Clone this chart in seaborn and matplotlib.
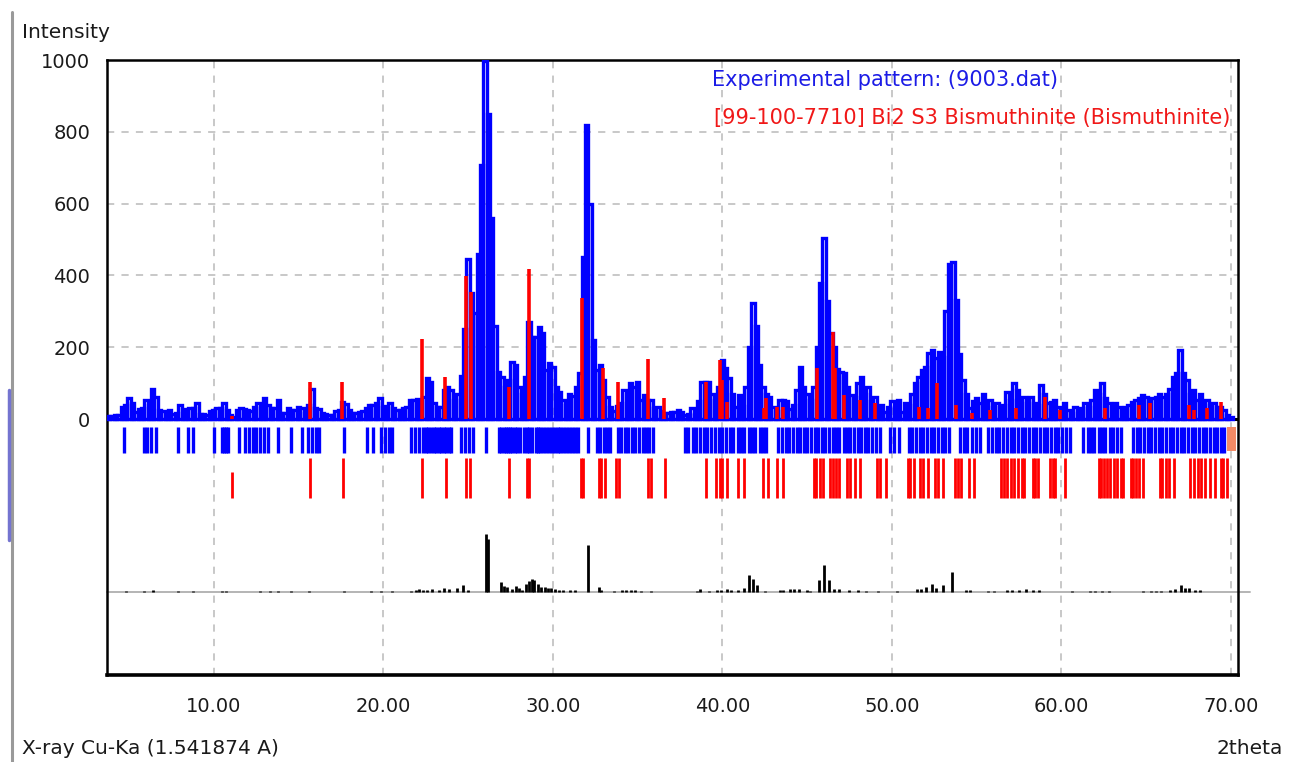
import numpy as np
import pandas as pd
import seaborn as sns
import matplotlib.pyplot as plt
from matplotlib.lines import Line2D
from matplotlib.patches import Rectangle

# ---------------------------------------------------------------- data
# Measured XRD pattern, 2theta from 3.8 deg in 0.2 deg steps
TWO_THETA_START = 3.8
TWO_THETA_STEP = 0.2
exp_intensity = [
    8, 8, 10, 12, 34, 40, 58, 46, 20, 28,
    30, 53, 39, 83, 62, 25, 22, 20, 25, 14,
    18, 39, 27, 24, 32, 30, 45, 14, 14, 12,
    23, 25, 32, 30, 44, 25, 12, 5, 25, 30,
    28, 24, 22, 34, 45, 30, 58, 39, 32, 30,
    53, 16, 18, 30, 26, 24, 34, 30, 16, 40,
    83, 30, 28, 16, 15, 11, 11, 22, 25, 48,
    42, 25, 16, 16, 20, 22, 30, 39, 39, 45,
    58, 34, 36, 44, 30, 25, 25, 30, 34, 53,
    53, 55, 50, 60, 113, 104, 44, 34, 34, 81,
    90, 81, 53, 70, 120, 250, 447, 350, 294, 461,
    707, 998, 850, 560, 260, 130, 118, 90, 110, 160,
    150, 90, 71, 118, 271, 229, 229, 257, 240, 136,
    157, 145, 90, 76, 53, 40, 71, 65, 90, 127,
    450, 819, 600, 220, 137, 150, 109, 62, 34, 22,
    35, 44, 81, 71, 99, 90, 104, 53, 67, 53,
    53, 30, 34, 22, 18, 16, 20, 20, 25, 20,
    12, 15, 30, 12, 50, 104, 104, 104, 71, 53,
    90, 164, 141, 113, 71, 34, 67, 35, 90, 200,
    322, 260, 150, 90, 71, 60, 34, 22, 53, 53,
    50, 28, 40, 81, 146, 90, 71, 53, 90, 200,
    380, 503, 330, 239, 201, 140, 130, 127, 90, 67,
    60, 100, 118, 70, 90, 50, 60, 30, 40, 20,
    34, 50, 30, 53, 20, 44, 40, 71, 99, 118,
    137, 146, 183, 192, 170, 188, 174, 300, 433, 438,
    331, 180, 110, 70, 30, 50, 58, 44, 71, 44,
    53, 34, 44, 34, 40, 76, 53, 99, 81, 44,
    62, 53, 62, 44, 40, 95, 71, 44, 48, 53,
    34, 25, 44, 25, 16, 34, 25, 30, 44, 34,
    53, 81, 71, 99, 58, 44, 34, 44, 34, 25,
    34, 39, 48, 53, 58, 67, 62, 53, 58, 62,
    71, 62, 71, 85, 118, 127, 192, 127, 109, 71,
    81, 53, 71, 44, 53, 39, 44, 34, 34, 25,
    11, 6,
]

# Reference card 99-100-7710 (Bi2S3): line positions and intensities
ref_pos = [11.1, 15.65, 17.55, 22.3, 23.65, 24.9, 25.2, 27.4, 28.6, 31.75,
           32.95, 33.85, 35.6, 36.55, 39.05, 39.85, 40.0, 40.28, 42.45, 42.6,
           43.2, 43.55, 45.58, 46.5, 46.65, 47.2, 48.15, 49.0, 51.6, 52.15,
           52.68, 53.8, 54.7, 55.8, 57.3, 59.05, 59.9, 62.6, 64.6, 65.2,
           67.5, 67.8, 68.6, 69.4]
ref_int = [8, 104, 104, 222, 116, 397, 355, 90, 418, 337,
           142, 104, 167, 59, 104, 164, 108, 48, 30, 58,
           34, 34, 141, 243, 141, 67, 53, 45, 34, 30,
           99, 39, 17, 25, 30, 62, 25, 30, 40, 45,
           39, 25, 30, 48]

# Peak positions found in the measured pattern
exp_peak_pos = [
    4.73, 5.86, 6.08, 6.31, 6.6, 7.89, 8.5, 8.79, 10.03, 10.48, 10.6, 10.71, 10.82,
    11.5, 11.84, 12.06, 12.29, 12.51, 12.74, 12.97, 13.19, 13.76, 14.55, 15.23,
    15.57, 15.79, 16.02, 16.18, 17.71, 19.06, 19.4, 19.86, 20.08, 20.31, 20.53,
    21.66, 21.89, 22.12, 22.34, 22.5, 22.66, 22.82, 22.98, 23.1, 23.26, 23.42,
    23.58, 23.7, 23.86, 24.0, 24.6, 24.82, 25.05, 25.27, 26.06, 26.85, 26.97,
    27.1, 27.22, 27.35, 27.5, 27.62, 27.75, 27.9, 28.05, 28.3, 28.45, 28.62, 28.8,
    28.98, 29.1, 29.25, 29.42, 29.6, 29.78, 29.95, 30.1, 30.28, 30.45, 30.6,
    30.78, 30.95, 31.12, 31.3, 31.48, 32.05, 32.6, 32.8, 33.0, 33.2, 33.4, 33.85,
    34.05, 34.25, 34.45, 34.65, 34.87, 35.1, 35.3, 35.5, 35.7, 35.9,
    37.8, 38.0, 38.25, 38.45, 38.7, 38.9, 39.1, 39.35, 39.55, 39.8, 40.0, 40.2,
    40.45, 40.65, 40.9, 41.1, 41.3, 41.55, 41.75, 41.95, 42.2, 42.4, 42.6,
    43.3, 43.5, 43.75, 43.95, 44.15, 44.4, 44.6, 44.8, 45.0, 45.25, 45.45, 45.65,
    45.85, 46.05, 46.3, 46.5, 46.7, 46.9, 47.15, 47.35, 47.55, 47.75, 48.0, 48.2,
    48.4, 48.6, 48.85, 49.05, 49.3, 49.9, 50.15, 50.4,
    51.0, 51.2, 51.45, 51.65, 51.85, 52.1, 52.3, 52.5, 52.7, 52.95, 53.15, 53.4,
    54.0, 54.25, 54.45, 54.7, 54.95, 55.2,
    55.7, 55.9, 56.15, 56.35, 56.55, 56.8, 57.0, 57.2, 57.45, 57.65, 57.85, 58.1,
    58.3, 58.5, 58.75, 58.95, 59.15, 59.4, 59.6, 59.8, 60.05, 60.25, 60.5,
    61.3, 61.55, 61.75, 61.95, 62.2, 62.4, 62.6, 62.85, 63.05, 63.3, 63.5,
    64.2, 64.45, 64.65, 64.85, 65.1, 65.3, 65.5, 65.75, 65.95, 66.15, 66.4, 66.6,
    66.8, 67.05, 67.25, 67.45, 67.7, 67.9, 68.1, 68.35, 68.55, 68.75, 69.0, 69.2,
    69.4, 69.6,
]

# Reflection markers of the Bi2S3 card (strong / weak)
ref_tick_pos = [
    15.7, 17.6, 22.3, 23.7, 24.9, 25.1, 27.4, 28.5, 28.6, 31.65, 31.8, 32.7,
    32.85, 33.05, 33.75, 33.9, 35.6, 35.8, 36.6,
    39.05, 39.65, 39.85, 40.0, 40.25, 40.9, 41.25, 42.4, 42.7, 43.25, 43.55,
    45.4, 45.55, 45.75, 45.95, 46.35, 46.5, 46.7, 46.9, 47.35, 47.55, 47.8,
    48.1, 49.1, 49.3, 49.65, 50.95, 51.1, 51.3, 51.65, 51.85, 52.15, 52.55,
    52.7, 53.0, 53.75, 53.9, 54.1, 54.55, 54.85, 56.45, 56.6, 56.8, 57.0,
    57.2, 57.45, 57.65, 57.8, 58.3, 58.45, 58.65, 59.3, 59.5, 59.65, 60.2,
    62.2, 62.35, 62.5, 62.7, 62.85, 63.1, 63.3, 63.5, 63.65, 64.1, 64.25, 64.4,
    64.6, 64.8, 65.8, 65.95, 66.15, 66.35, 66.65, 67.6, 67.8, 68.05, 68.25,
    68.5, 68.75, 69.05, 69.4, 69.55, 69.75,
]
ref_tick_weak = [11.1]

# Difference between measured and calculated profile
diff_pos = [
    4.84, 5.9, 6.42, 7.89, 8.79, 10.5, 10.7, 12.74, 13.3, 13.76, 14.55, 15.63,
    17.71, 19.29, 19.86, 20.53, 21.66, 21.9, 22.1, 22.34, 22.6, 22.9, 23.3,
    23.58, 23.9, 24.37, 24.71, 25.0, 26.06, 26.2, 26.97, 27.1, 27.3, 27.6,
    27.85, 27.98, 28.2, 28.44, 28.6, 28.75, 28.89, 29.11, 29.3, 29.56, 29.7,
    29.9, 30.1, 30.35, 30.6, 31.03, 31.3, 32.05, 32.73, 32.85, 33.6, 34.08,
    34.3, 34.6, 34.87, 35.2, 35.78, 38.49, 38.7, 39.2, 39.7, 39.9, 40.25, 40.5,
    40.9, 41.3, 41.58, 41.8, 42.02, 42.5, 43.4, 43.6, 44.0, 44.2, 44.5, 45.0,
    45.2, 45.73, 46.02, 46.28, 46.6, 46.9, 47.5, 48.0, 48.5, 49.2, 50.3, 51.5,
    51.7, 52.0, 52.38, 52.6, 53.04, 53.55, 54.4, 54.6, 55.7, 56.0, 56.8, 57.1,
    57.5, 57.9, 58.3, 58.7, 60.6, 61.7, 62.0, 62.4, 62.8, 64.8, 65.3, 65.6,
    65.9, 66.4, 66.7, 67.08, 67.3, 67.5, 67.9, 68.2,
]
diff_height = [
    3, 4, 6, 3, 3, 3, 3, 3, 3, 3, 3, 3,
    3, 3, 3, 3, 4, 6, 8, 5, 6, 8, 6,
    10, 8, 12, 20, 6, 163, 149, 28, 18, 15, 8,
    18, 12, 6, 22, 30, 37, 33, 22, 15, 15, 12,
    10, 8, 6, 5, 5, 5, 130, 15, 6, 4, 6,
    6, 5, 5, 4, 4, 3, 8, 4, 5, 6, 8, 5,
    5, 11, 47, 37, 19, 3, 5, 5, 9, 9, 8, 6,
    4, 33, 75, 33, 9, 9, 5, 5, 4, 3, 3, 8,
    8, 14, 23, 12, 19, 56, 5, 5, 4, 4, 6, 6,
    6, 8, 6, 6, 3, 3, 3, 3, 3, 3, 3, 3,
    3, 5, 8, 19, 11, 11, 5, 5,
]

x_ticks = [10, 20, 30, 40, 50, 60, 70]
x_tick_labels = ["10.00", "20.00", "30.00", "40.00", "50.00", "60.00", "70.00"]
y_ticks = [0, 200, 400, 600, 800, 1000]
y_tick_labels = ["0", "200", "400", "600", "800", "1000"]

# ---------------------------------------------------------------- styling
BLUE = "#0000ff"
RED = "#ff0000"
GRID = "#c4c4c4"

sns.set_theme(style="white")
plt.rcParams["font.family"] = ["DejaVu Sans"]

W, H = 1289, 762
fig = plt.figure(figsize=(W / 100, H / 100), dpi=100)
fig.patch.set_facecolor("white")
ax = fig.add_axes([107 / W, 1 - 675 / H, (1238 - 107) / W, (675 - 60) / H])
ax.set_facecolor("white")

# bands below the pattern (in intensity units)
BLUE_TICK = (-22, -95)
RED_TICK = (-108, -220)
RED_TICK_WEAK = (-148, -220)
DIFF_BASE = -482

n = len(exp_intensity)
pattern = pd.DataFrame({
    "two_theta": TWO_THETA_START + TWO_THETA_STEP * np.arange(n),
    "intensity": np.asarray(exp_intensity, dtype=float),
})
edges = list(TWO_THETA_START - TWO_THETA_STEP / 2
             + TWO_THETA_STEP * np.arange(n + 1))

# measured pattern as outlined histogram bars
sns.histplot(data=pattern, x="two_theta", weights="intensity", bins=edges,
             element="bars", fill=False, color=BLUE, linewidth=2.4, ax=ax,
             zorder=3)

ax.axhline(0, color="black", lw=2.2, zorder=2)

# reference lines
ax.vlines(ref_pos, 0, ref_int, color=RED, lw=2.6, zorder=4)

# peak / reflection markers
ax.vlines(exp_peak_pos, BLUE_TICK[0], BLUE_TICK[1], color=BLUE, lw=2.4, zorder=3)
ax.vlines(ref_tick_pos, RED_TICK[0], RED_TICK[1], color=RED, lw=2.0, zorder=3)
ax.vlines(ref_tick_weak, RED_TICK_WEAK[0], RED_TICK_WEAK[1], color=RED, lw=2.0, zorder=3)
ax.add_patch(Rectangle((69.75, -88), 0.55, 66, facecolor="#f38a66",
                       edgecolor="none", zorder=3))

# difference curve
ax.plot([3.7, 71.1], [DIFF_BASE, DIFF_BASE], color="#b4b4b4", lw=1.4,
        zorder=2, clip_on=False)
ax.vlines(diff_pos, DIFF_BASE, np.array(diff_height) + DIFF_BASE,
          color="black", lw=2.0, zorder=3)

# axes
ax.set_xlim(3.7, 70.42)
ax.set_ylim(-713, 1000)
ax.set_xticks(x_ticks)
ax.set_xticklabels(x_tick_labels)
ax.set_yticks(y_ticks)
ax.set_yticklabels(y_tick_labels)
ax.set_xlabel("")
ax.set_ylabel("")
ax.tick_params(axis="both", direction="out", length=7, width=1.5,
               colors="black", labelsize=14, labelcolor="#1a1a1a")
ax.tick_params(axis="x", pad=9)
ax.tick_params(axis="y", pad=5)
ax.grid(True, axis="both", color=GRID, lw=1.3, ls=(0, (4, 4)), zorder=0)
ax.set_axisbelow(True)
for side in ["left", "right", "top", "bottom"]:
    ax.spines[side].set_visible(True)
    ax.spines[side].set_color("black")
    ax.spines[side].set_linewidth(1.8)
ax.spines["bottom"].set_linewidth(2.6)

# legend lines
fig.text(712 / W, 1 - 80 / H, "Experimental pattern: (9003.dat)",
         color="#1c1ce6", fontsize=15, ha="left", va="center")
fig.text(714 / W, 1 - 118 / H, "[99-100-7710] Bi2 S3 Bismuthinite (Bismuthinite)",
         color="#f01818", fontsize=15, ha="left", va="center")

# axis captions
fig.text(22 / W, 1 - 33 / H, "Intensity", fontsize=14.5, color="#1a1a1a",
         ha="left", va="center")
fig.text(22 / W, 1 - 748 / H, "X-ray Cu-Ka (1.541874 A)", fontsize=14.5,
         color="#1a1a1a", ha="left", va="center")
fig.text(1283 / W, 1 - 748 / H, "2theta", fontsize=14.5, color="#1a1a1a",
         ha="right", va="center")

# window edge on the left
fig.add_artist(Line2D([12 / W, 12 / W], [0, 1 - 12 / H], color="#9a9a9a",
                      lw=2.2, transform=fig.transFigure))
fig.add_artist(Line2D([9 / W, 9 / W], [1 - 540 / H, 1 - 390 / H], color="#7474d0",
                      lw=2.5, transform=fig.transFigure))

fig.savefig("out.png", dpi=100, facecolor="white")
